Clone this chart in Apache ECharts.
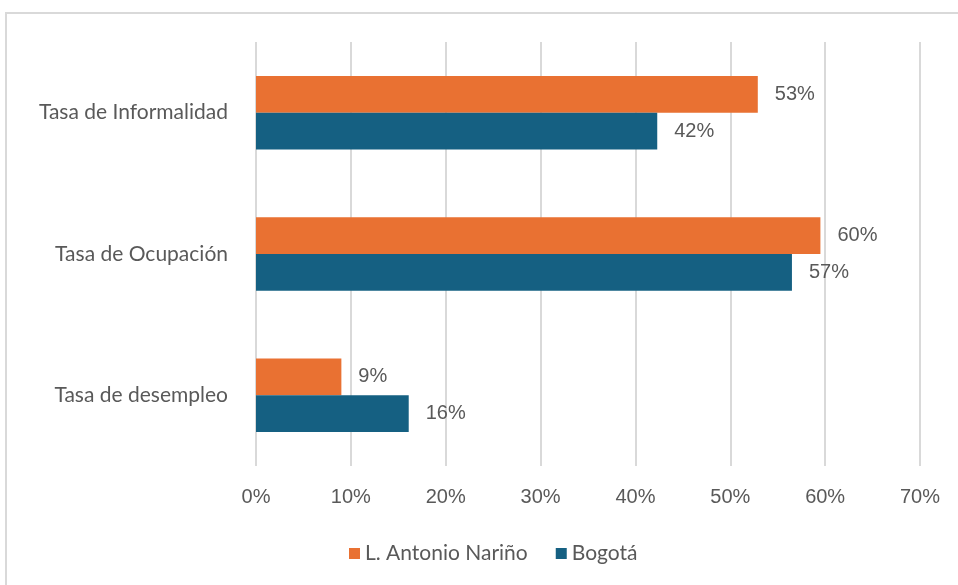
<!DOCTYPE html>
<html>
<head>
<meta charset="utf-8">
<script src="https://cdn.jsdelivr.net/npm/echarts@6/dist/echarts.min.js"></script>
<style>
  html, body { margin: 0; padding: 0; background: #fff; }
  #main { width: 958px; height: 585px; }
</style>
</head>
<body>
<div id="main"></div>
<script>
// categorias de arriba hacia abajo
var categorias = ['Tasa de Informalidad', 'Tasa de Ocupación', 'Tasa de desempleo'];
var nombreSeries = ['L. Antonio Nariño', 'Bogotá'];
var nariño = [52.9, 59.5, 9.0];   // %
var bogota = [42.3, 56.5, 16.1];  // %
var ticksX = [0, 10, 20, 30, 40, 50, 60, 70];

var colores = ['#E97132', '#156082'];
var gris = '#595959';

var myChart = echarts.init(document.getElementById('main'));

var etiqueta = {
  show: true,
  position: 'right',
  distance: 17,
  color: gris,
  fontFamily: 'Liberation Sans',
  fontSize: 20,
  formatter: function (p) { return Math.round(p.value) + '%'; }
};

var option = {
  animation: false,
  color: colores,
  graphic: [{
    type: 'rect',
    shape: { x: 6, y: 13, width: 1000, height: 620 },
    style: { fill: 'none', stroke: '#d9d9d9', lineWidth: 2 },
    silent: true
  }],
  grid: { left: 256, right: 38, top: 42, bottom: 119 },
  legend: {
    data: nombreSeries,
    left: 344,
    top: 538,
    icon: 'rect',
    itemWidth: 11,
    itemHeight: 11,
    itemGap: 28,
    textStyle: { color: gris, fontFamily: 'Lato', fontSize: 21 }
  },
  xAxis: {
    type: 'value',
    min: ticksX[0],
    max: ticksX[ticksX.length - 1],
    interval: 10,
    axisLine: { show: false },
    axisTick: { show: false },
    splitLine: { lineStyle: { color: '#d9d9d9', width: 2 } },
    axisLabel: {
      margin: 21,
      color: gris,
      fontFamily: 'Liberation Sans',
      fontSize: 20,
      formatter: '{value}%'
    }
  },
  yAxis: {
    type: 'category',
    inverse: true,
    data: categorias,
    axisLine: { show: false },
    axisTick: { show: false },
    axisLabel: {
      margin: 28,
      color: gris,
      fontFamily: 'Lato',
      fontSize: 21
    }
  },
  series: [
    {
      name: nombreSeries[0],
      type: 'bar',
      data: nariño,
      barGap: '0%',
      barCategoryGap: '48%',
      label: etiqueta
    },
    {
      name: nombreSeries[1],
      type: 'bar',
      data: bogota,
      barGap: '0%',
      barCategoryGap: '48%',
      label: etiqueta
    }
  ]
};

myChart.setOption(option);
</script>
</body>
</html>
